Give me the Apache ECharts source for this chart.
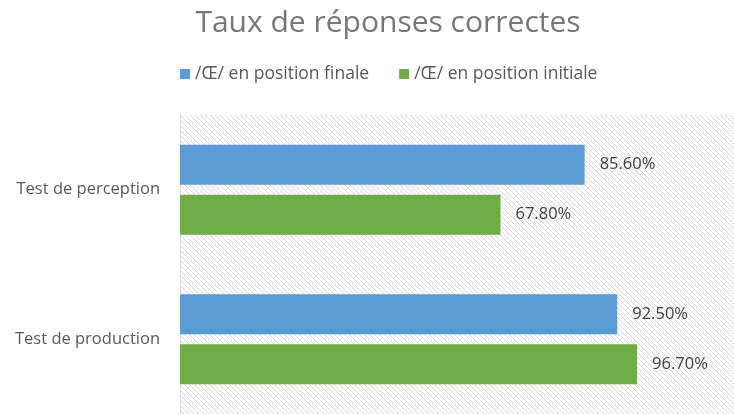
<!DOCTYPE html>
<html>
<head>
<meta charset="utf-8">
<script src="https://cdn.jsdelivr.net/npm/echarts@6/dist/echarts.min.js"></script>
<style>
	html, body { margin: 0; padding: 0; background: #fff; }
	#chart { width: 734px; height: 414px; }
</style>
</head>
<body>
<div id="chart"></div>
<script>
const categories = ["Test de perception", "Test de production"];
const seriesNames = ["/Œ/ en position finale", "/Œ/ en position initiale"];
const finaleValues = [85.6, 92.5];
const initialeValues = [67.8, 96.7];

// diagonal hatch tile for the plot background
function hatchTile() {
	const c = document.createElement("canvas");
	c.width = 5;
	c.height = 5;
	const ctx = c.getContext("2d");
	ctx.fillStyle = "#ffffff";
	ctx.fillRect(0, 0, 5, 5);
	ctx.strokeStyle = "#d6d6d6";
	ctx.lineWidth = 1;
	ctx.beginPath();
	ctx.moveTo(-1, -1);
	ctx.lineTo(6, 6);
	ctx.moveTo(-1, 4);
	ctx.lineTo(1, 6);
	ctx.moveTo(4, -1);
	ctx.lineTo(6, 1);
	ctx.stroke();
	return c;
}

const chartDom = document.getElementById("chart");
const myChart = echarts.init(chartDom);
const fontFamily = "'Open Sans', sans-serif";

const labelStyle = {
	show: true,
	position: "right",
	distance: 15,
	fontSize: 16.5,
	fontFamily: fontFamily,
	color: "#404040",
	formatter: (p) => p.value.toFixed(2) + "%"
};

const option = {
	animation: false,
	title: {
		text: "Taux de réponses correctes",
		left: 388,
		top: 8,
		padding: 0,
		textAlign: "center",
		textStyle: {
			fontSize: 30,
			fontWeight: "normal",
			fontFamily: fontFamily,
			color: "#767676"
		}
	},
	legend: {
		left: 180,
		top: 65,
		padding: 0,
		itemWidth: 10,
		itemHeight: 10,
		itemGap: 30,
		icon: "rect",
		textStyle: {
			fontSize: 17.5,
			fontFamily: fontFamily,
			color: "#595959"
		},
		data: seriesNames
	},
	grid: {
		show: true,
		left: 180,
		top: 115,
		right: 0,
		height: 300,
		borderWidth: 0,
		backgroundColor: {image: hatchTile(), repeat: "repeat"}
	},
	xAxis: {
		type: "value",
		min: 0,
		max: 117.2,
		show: false
	},
	yAxis: {
		type: "category",
		inverse: true,
		data: categories,
		axisLine: {
			show: true,
			lineStyle: {color: "#d9d9d9", width: 1}
		},
		axisTick: {show: false},
		axisLabel: {
			margin: 20,
			fontSize: 16.5,
			fontFamily: fontFamily,
			color: "#595959"
		}
	},
	series: [{
		name: seriesNames[0],
		type: "bar",
		data: finaleValues,
		barWidth: 40,
		barGap: "25%",
		itemStyle: {color: "#5b9bd5"},
		label: labelStyle
	}, {
		name: seriesNames[1],
		type: "bar",
		data: initialeValues,
		barWidth: 40,
		barGap: "25%",
		itemStyle: {color: "#70ad47"},
		label: labelStyle
	}]
};

option && myChart.setOption(option);
</script>
</body>
</html>
